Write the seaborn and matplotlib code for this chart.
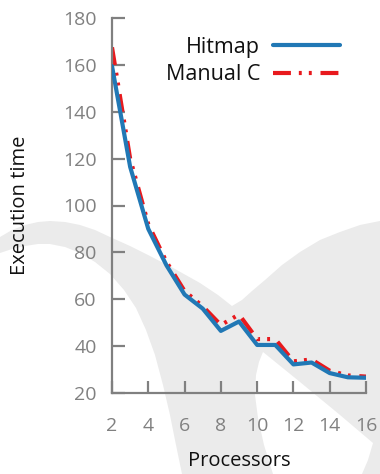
import numpy as np
import pandas as pd
import matplotlib
matplotlib.use('Agg')
import matplotlib.pyplot as plt
from matplotlib.patches import Polygon
import seaborn as sns

# values
processors = [2, 3, 4, 5, 6, 7, 8, 9, 10, 11, 12, 13, 14, 15, 16]
hitmap = [159.5, 116.5, 90, 74.5, 62, 56, 46.5, 50.5, 40.5, 40.5, 32.2, 33, 28.5, 26.7, 26.5]
manual_c = [167.5, 120, 92, 76, 63.5, 57, 49, 53.5, 43, 43, 33.5, 34.3, 29.5, 27.5, 27]
series_names = ['Hitmap', 'Manual C']
x_ticks = [2, 4, 6, 8, 10, 12, 14, 16]
y_ticks = [20, 40, 60, 80, 100, 120, 140, 160, 180]

df = pd.DataFrame({
    'Processors': processors * 2,
    'Execution time': hitmap + manual_c,
    'series': [series_names[0]] * len(processors) + [series_names[1]] * len(processors),
})

sns.set_style('white')
plt.rcParams['font.family'] = ['Open Sans', 'DejaVu Sans']

W, H = 380, 474
fig = plt.figure(figsize=(W / 100, H / 100), dpi=100)
fig.patch.set_facecolor('white')


def px(points):
    return [(x / W, 1 - y / H) for x, y in points]


# light grey watermark in the background
grey = [(0, 237), (12, 230), (25, 225), (38, 222), (50, 221), (65, 222), (80, 225),
        (95, 230), (110, 237), (130, 246), (150, 256), (175, 269), (200, 283),
        (218, 295), (232, 306), (242, 300), (252, 291), (265, 280), (282, 265),
        (300, 252), (320, 240), (340, 232), (360, 225), (380, 221),
        (380, 474), (182, 474), (176, 445), (170, 415), (163, 385), (155, 355),
        (146, 330), (136, 308), (124, 290), (110, 274), (95, 262), (80, 253),
        (65, 247), (50, 244), (38, 244), (25, 246), (12, 249), (0, 253)]
hole = [(263, 352), (300, 382), (340, 415), (373, 443), (368, 460), (362, 474),
        (273, 474), (264, 445), (258, 418), (255, 395), (256, 375), (259, 362)]
fig.patches.append(Polygon(px(grey), closed=True, transform=fig.transFigure,
                           facecolor='#ebebeb', edgecolor='none', zorder=-10))
fig.patches.append(Polygon(px(hole), closed=True, transform=fig.transFigure,
                           facecolor='white', edgecolor='none', zorder=-9))

ax = fig.add_axes([112 / W, 1 - 393 / H, (366 - 112) / W, (393 - 18) / H])
ax.set_facecolor('none')

sns.lineplot(data=df, x='Processors', y='Execution time', hue='series', style='series',
             hue_order=series_names, style_order=series_names,
             palette={'Hitmap': '#2178b5', 'Manual C': '#e8191d'},
             dashes={'Hitmap': '', 'Manual C': (4.3, 1.9, 0.7, 1.7, 0.7, 2.1)},
             linewidth=3, ax=ax)
ax.lines[0].set_zorder(3)
ax.lines[1].set_zorder(2)

ax.set_xlim(2, 16)
ax.set_ylim(20, 180)
ax.set_xticks(x_ticks)
ax.set_yticks(y_ticks)
sns.despine(ax=ax)
for s in ['left', 'bottom']:
    ax.spines[s].set_color('#808080')
    ax.spines[s].set_linewidth(1.6)
ax.tick_params(direction='in', length=9, width=1.6, color='#808080',
               labelcolor='#808080', labelsize=14, left=True, bottom=True)
ax.tick_params(axis='y', pad=11)
ax.tick_params(axis='x', pad=17)
for lab in ax.get_xticklabels() + ax.get_yticklabels():
    lab.set_clip_on(False)

ax.set_xlabel('Processors', fontsize=14.5, color='#111111', labelpad=12)
ax.set_ylabel('Execution time', fontsize=14.5, color='#111111', labelpad=24)

handles, labels = ax.get_legend_handles_labels()
leg = ax.legend(handles, labels, loc='upper right', bbox_to_anchor=(340 / W, 1 - 37 / H),
                bbox_transform=fig.transFigure, frameon=False, markerfirst=False,
                handlelength=3.1, handletextpad=0.6, labelspacing=0.3, fontsize=15.5,
                borderpad=0, borderaxespad=0)
for t in leg.get_texts():
    t.set_color('#111111')

fig.savefig('out.png', dpi=100, facecolor='white')
